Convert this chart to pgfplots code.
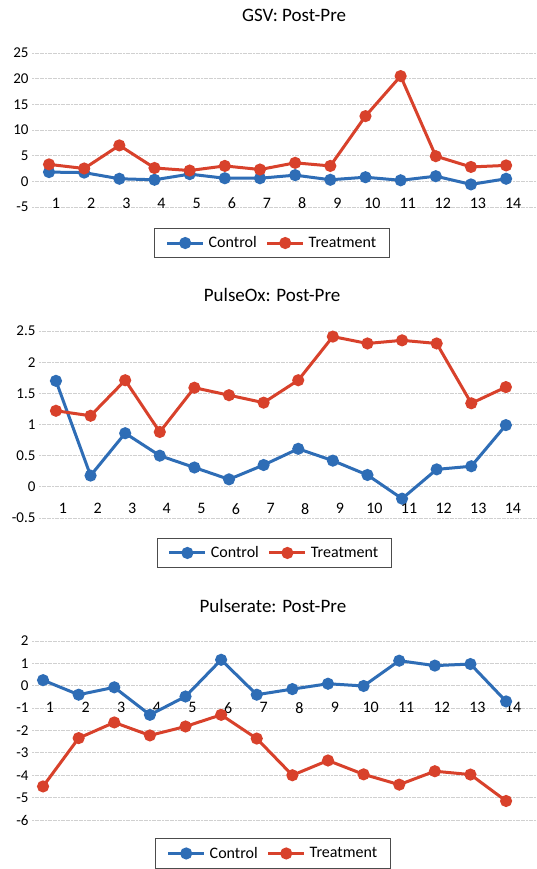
\documentclass[border=0pt]{standalone}
\usepackage{pgfplots}
\pgfplotsset{compat=1.18}
\usepackage{fontspec}
\setmainfont{Carlito}
\definecolor{cblue}{HTML}{2E6DB6}
\definecolor{cred}{HTML}{D8412B}
\definecolor{gridc}{HTML}{D0D0D0}
\pgfplotsset{
  panel/.style={
    scale only axis,
    clip=false,
    axis x line*=middle,
    axis y line*=left,
    axis line style={draw=none},
    major tick length=0pt,
    ymajorgrids,
    grid style={gridc, line width=0.8pt, dash pattern=on 2pt off 0.6pt},
    xtick={1,...,14},
    tick label style={font=\fontsize{15}{17}\selectfont, text=black},
    xticklabel style={font=\fontsize{16}{18}\selectfont, yshift=-13pt, xshift=7pt},
    /pgf/number format/assume math mode=true,
    title style={font=\fontsize{19}{21}\selectfont, anchor=center, yshift=-6pt},
    legend columns=2,
    legend style={font=\fontsize{16}{18}\selectfont, anchor=center, draw=black!70, line width=0.7pt,
      /tikz/every even column/.append style={column sep=7pt},
      /tikz/every odd column/.append style={column sep=2pt},
      inner xsep=11pt, inner ysep=6.5pt},
    legend image code/.code={\draw[mark repeat=2,mark phase=2,#1] plot coordinates {(0pt,0pt)(18pt,0pt)(36pt,0pt)};},
  },
  ctrl/.style={cblue, line width=3pt, mark=*, mark size=4.5pt, mark options={solid}},
  trt/.style={cred, line width=3pt, mark=*, mark size=4.5pt, mark options={solid}},
}
\begin{document}
\begin{tikzpicture}
\path[use as bounding box, fill=white] (0pt,0pt) rectangle (536pt,869pt);
% Panel 1: GSV
\begin{axis}[panel, at={(32pt,662pt)}, anchor=south west, width=504pt, height=154pt,
  xmin=0.516, xmax=14.85, ymin=-5, ymax=25, ytick={-5,0,...,25},
  title={GSV: Post-Pre}, title style={at={(0.52,1.247)}},
  legend style={at={(0.476,-0.234)}}]
\addplot[ctrl] coordinates {(1,1.8)(2,1.7)(3,0.5)(4,0.3)(5,1.4)(6,0.6)(7,0.6)(8,1.2)(9,0.3)(10,0.8)(11,0.2)(12,1.0)(13,-0.6)(14,0.5)};
\addplot[trt] coordinates {(1,3.3)(2,2.5)(3,7.0)(4,2.6)(5,2.1)(6,3.0)(7,2.3)(8,3.6)(9,3.0)(10,12.7)(11,20.5)(12,4.9)(13,2.8)(14,3.1)};
\legend{Control, Treatment}
\end{axis}
% Panel 2: PulseOx
\begin{axis}[panel, at={(39pt,351pt)}, anchor=south west, width=497pt, height=187pt,
  xmin=0.51, xmax=14.87, ymin=-0.5, ymax=2.5, ytick={-0.5,0,0.5,1,1.5,2,2.5},
  yticklabels={-0.5,0,0.5,1,1.5,2,2.5},
  title={PulseOx: Post-Pre}, title style={at={(0.469,1.193)}},
  legend style={at={(0.473,-0.187)}}]
\addplot[ctrl] coordinates {(1,1.70)(2,0.18)(3,0.86)(4,0.50)(5,0.31)(6,0.12)(7,0.35)(8,0.61)(9,0.42)(10,0.19)(11,-0.19)(12,0.28)(13,0.33)(14,0.99)};
\addplot[trt] coordinates {(1,1.22)(2,1.14)(3,1.71)(4,0.88)(5,1.59)(6,1.47)(7,1.35)(8,1.71)(9,2.41)(10,2.30)(11,2.35)(12,2.30)(13,1.34)(14,1.60)};
\legend{Control, Treatment}
\end{axis}
% Panel 3: Pulserate
\begin{axis}[panel, at={(32pt,49pt)}, anchor=south west, width=504pt, height=179pt,
  xmin=0.69, xmax=14.84, ymin=-6, ymax=2, ytick={-6,-5,...,2},
  title={Pulserate: Post-Pre}, title style={at={(0.478,1.196)}},
  legend style={at={(0.478,-0.187)}}]
\addplot[ctrl] coordinates {(1,0.25)(2,-0.40)(3,-0.07)(4,-1.30)(5,-0.48)(6,1.16)(7,-0.40)(8,-0.15)(9,0.09)(10,-0.01)(11,1.12)(12,0.90)(13,0.97)(14,-0.70)};
\addplot[trt] coordinates {(1,-4.50)(2,-2.34)(3,-1.64)(4,-2.22)(5,-1.82)(6,-1.30)(7,-2.36)(8,-4.00)(9,-3.34)(10,-3.96)(11,-4.42)(12,-3.82)(13,-3.97)(14,-5.15)};
\legend{Control, Treatment}
\end{axis}
\end{tikzpicture}
\end{document}
